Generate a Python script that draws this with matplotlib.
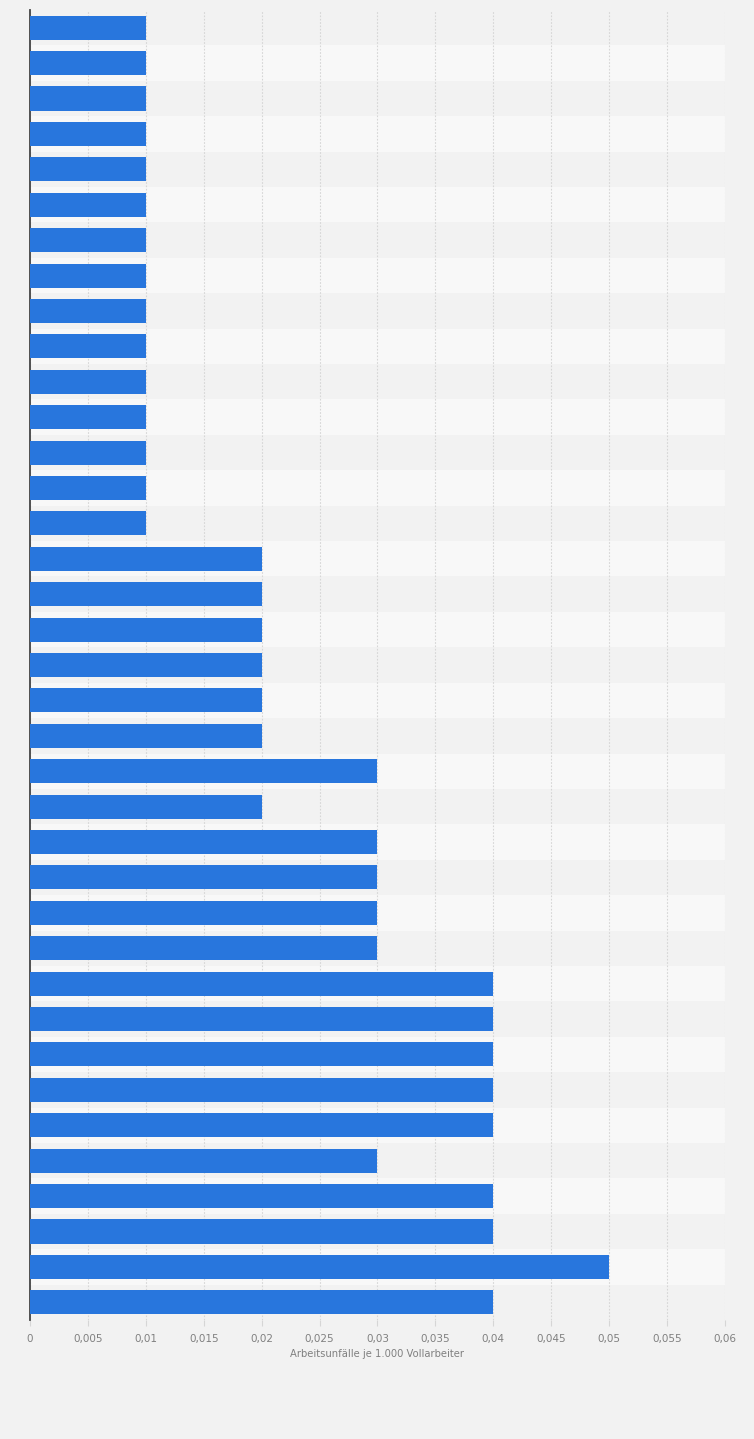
import matplotlib
matplotlib.use("Agg")
import matplotlib.pyplot as plt
import numpy as np
from matplotlib.ticker import FixedLocator, FuncFormatter

values = [0.01]*15 + [0.02]*6 + [0.03, 0.02] + [0.03]*4 + [0.04]*5 + [0.03, 0.04, 0.04, 0.05, 0.04]
xticks = [0, 0.005, 0.01, 0.015, 0.02, 0.025, 0.03, 0.035, 0.04, 0.045, 0.05, 0.055, 0.06]
xlabel = "Arbeitsunfälle je 1.000 Vollarbeiter"

W, H = 754, 1439
fig = plt.figure(figsize=(W/100, H/100), dpi=100)
fig.patch.set_facecolor("#f2f2f2")
left, right, top, bottom = 30, 725, 10, 1320
ax = fig.add_axes([left/W, 1-bottom/H, (right-left)/W, (bottom-top)/H])
ax.set_facecolor("#f2f2f2")

n = len(values)
y = np.arange(n)
for i in range(n):
    ax.axhspan(i-0.5, i+0.5, color="#f2f2f2" if i % 2 == 0 else "#f8f8f8", zorder=0, lw=0)

ax.barh(y, values, height=0.68, color="#2876dd", zorder=3)
ax.set_ylim(n-0.5, -0.5)
ax.set_xlim(0, 0.06)
ax.xaxis.set_major_locator(FixedLocator(xticks))
ax.xaxis.set_major_formatter(FuncFormatter(lambda v, p: ("%g" % round(v, 3)).replace(".", ",")))
ax.grid(axis="x", color="#d6d6d6", linestyle=(0, (1.5, 1.5)), linewidth=0.8, zorder=1)
ax.set_yticks([])
for s in ["top", "right", "bottom"]:
    ax.spines[s].set_visible(False)
ax.spines["left"].set_color("#444444")
ax.spines["left"].set_linewidth(1.3)
ax.tick_params(axis="x", length=4, color="#d6d6d6", labelsize=7.5, labelcolor="#808080", pad=6)
ax.set_xlabel(xlabel, fontsize=7.2, color="#808080", labelpad=4)

fig.savefig("out.png", dpi=100, facecolor=fig.get_facecolor())
